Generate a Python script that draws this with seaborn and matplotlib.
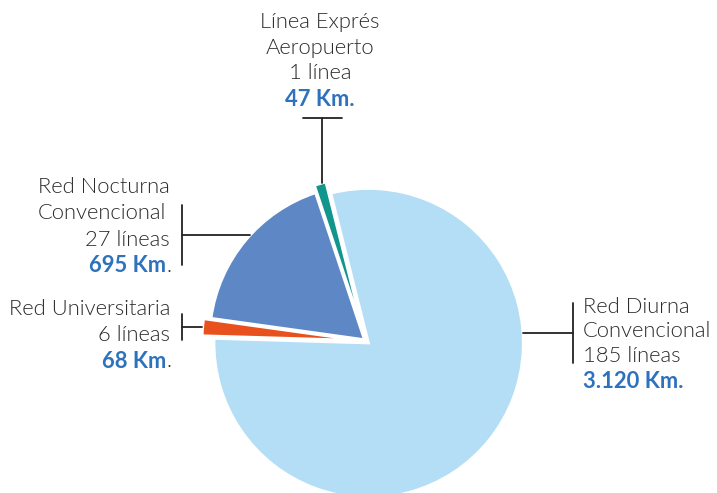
import matplotlib
matplotlib.use("Agg")
import matplotlib.pyplot as plt
import seaborn as sns

# ---- data ----
networks = ["Red Diurna Convencional", "Línea Exprés Aeropuerto",
            "Red Nocturna Convencional", "Red Universitaria"]
km = [3120, 47, 695, 68]
lines_count = [185, 1, 27, 6]
km_labels = ["3.120 Km.", "47 Km.", "695 Km", "68 Km"]
colors = ["#B3DEF5", "#10968C", "#5E87C5", "#E8501E"]

sns.set_theme(style="white")
plt.rcParams["font.family"] = ["Lato", "DejaVu Sans"]

W, H = 717, 493
fig = plt.figure(figsize=(W / 100, H / 100), dpi=100)
ax = fig.add_axes([0, 0, 1, 1])

cx, cy, R = 366.0, 341.0, 154.5  # pie centre and radius in pixels

ax.pie(km, colors=colors, startangle=178.3, counterclock=True,
       explode=[0.022, 0.06, 0.015, 0.06],
       wedgeprops=dict(edgecolor="white", linewidth=1.8))
ax.set_aspect("equal")
ax.set_xlim(-cx / R, (W - cx) / R)
ax.set_ylim(-(H - cy) / R, cy / R)
ax.axis("off")

gray = "#2B2B2B"
blue = "#2E72BE"
fs = 15.8


def fx(x):
    return x / W


def fy(y):
    return 1 - y / H


def txt(x, y, s, ha, color=gray, weight=300):
    fig.text(fx(x), fy(y), s, ha=ha, va="center", fontsize=fs,
             color=color, fontweight=weight)


def seg(x0, y0, x1, y1):
    fig.add_artist(plt.Line2D([fx(x0), fx(x1)], [fy(y0), fy(y1)],
                              transform=fig.transFigure, color="#222222", lw=1.3))


# Línea Exprés Aeropuerto (top)
txt(320, 22, "Línea Exprés", "center")
txt(320, 48, "Aeropuerto", "center")
txt(320, 73, f"{lines_count[1]} línea", "center")
txt(320, 100, km_labels[1], "center", blue, "bold")
seg(303, 118, 342, 118)
seg(322, 118, 322, 183)

# Red Nocturna Convencional (left top)
txt(170, 187, "Red Nocturna", "right")
txt(166, 213, "Convencional", "right")
txt(170, 240, f"{lines_count[2]} líneas", "right")
txt(166, 266, km_labels[2], "right", blue, "bold")
txt(166, 266, ".", "left")
seg(182, 205, 182, 265)
seg(182, 235, 250, 235)

# Red Universitaria (left bottom)
txt(170, 309, "Red Universitaria", "right")
txt(170, 335, f"{lines_count[3]} líneas", "right")
txt(166, 361, km_labels[3], "right", blue, "bold")
txt(166, 361, ".", "left")
seg(182, 314, 182, 340)
seg(182, 327, 202, 327)

# Red Diurna Convencional (right)
txt(583, 307, "Red Diurna", "left")
txt(583, 331, "Convencional", "left")
txt(583, 356, f"{lines_count[0]} líneas", "left")
txt(583, 381, km_labels[0], "left", blue, "bold")
seg(573, 303, 573, 363)
seg(523, 333, 573, 333)

fig.savefig("out.png", dpi=100)
